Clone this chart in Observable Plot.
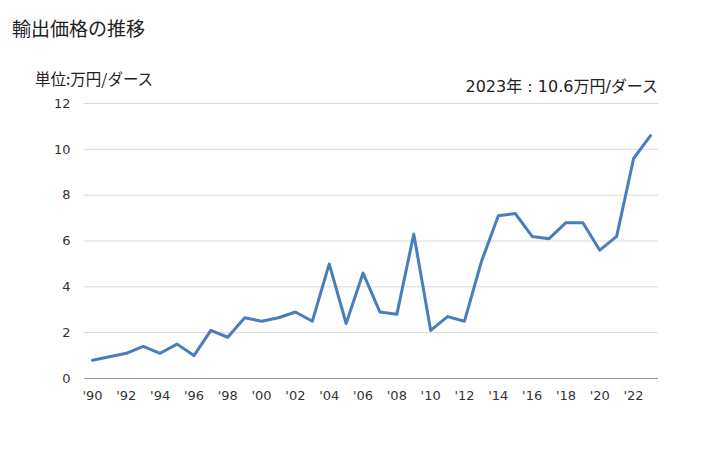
<!DOCTYPE html>
<html><head><meta charset="utf-8">
<script src="https://cdn.jsdelivr.net/npm/d3@7"></script>
<script src="https://cdn.jsdelivr.net/npm/@observablehq/plot@0.6"></script>
<style>
body{margin:0;background:#fff;font-family:"DejaVu Sans","Noto Sans CJK JP",sans-serif;}
#wrap{position:relative;width:728px;height:450px;}
.t{position:absolute;color:#222;white-space:nowrap;line-height:1;}
</style></head>
<body><div id="wrap">
<div class="t" style="left:12px;top:18px;font-size:19px;font-family:'Noto Sans CJK JP',sans-serif;">輸出価格の推移</div>
<div class="t" style="left:35px;top:71px;font-size:15.5px;font-family:'Noto Sans CJK JP',sans-serif;">単位:万円/ダース</div>
<div class="t" style="right:70px;top:79px;font-size:16px;font-family:'DejaVu Sans','Noto Sans CJK JP',sans-serif;">2023年 : 10.6万円/ダース</div>
</div>
<script>
const years = [1990,1991,1992,1993,1994,1995,1996,1997,1998,1999,2000,2001,2002,2003,2004,2005,2006,2007,2008,2009,2010,2011,2012,2013,2014,2015,2016,2017,2018,2019,2020,2021,2022,2023];
const values = [0.8,0.95,1.1,1.4,1.1,1.5,1.0,2.1,1.8,2.65,2.5,2.65,2.9,2.5,5.0,2.4,4.6,2.9,2.8,6.3,2.1,2.7,2.5,5.1,7.1,7.2,6.2,6.1,6.8,6.8,5.6,6.2,9.6,10.6];
const yTicks = [0,2,4,6,8,10,12];
const xTicks = [1990,1992,1994,1996,1998,2000,2002,2004,2006,2008,2010,2012,2014,2016,2018,2020,2022];
const data = years.map((y,i)=>({year:y,value:values[i]}));
const chart = Plot.plot({
  width:728,height:450,
  marginLeft:84,marginRight:70,marginTop:103,marginBottom:72,
  style:{fontFamily:"'DejaVu Sans',sans-serif",fontSize:"13px",color:"#333",background:"transparent"},
  x:{domain:[1990,2023],insetLeft:8,insetRight:8,ticks:xTicks,tickFormat:d=>"'"+String(d).slice(2),tickSize:0,tickPadding:12,label:null},
  y:{domain:[0,12],ticks:yTicks,tickSize:0,tickPadding:14,label:null},
  marks:[
    Plot.ruleY(yTicks.filter(d=>d>0),{stroke:"#d9d9d9",strokeWidth:1}),
    Plot.ruleY([0],{stroke:"#999",strokeWidth:1}),
    Plot.lineY(data,{x:"year",y:"value",stroke:"#4a7ebb",strokeWidth:3})
  ]
});
chart.style.position="absolute";chart.style.left="0";chart.style.top="0";
document.getElementById("wrap").prepend(chart);
</script>
</body></html>
